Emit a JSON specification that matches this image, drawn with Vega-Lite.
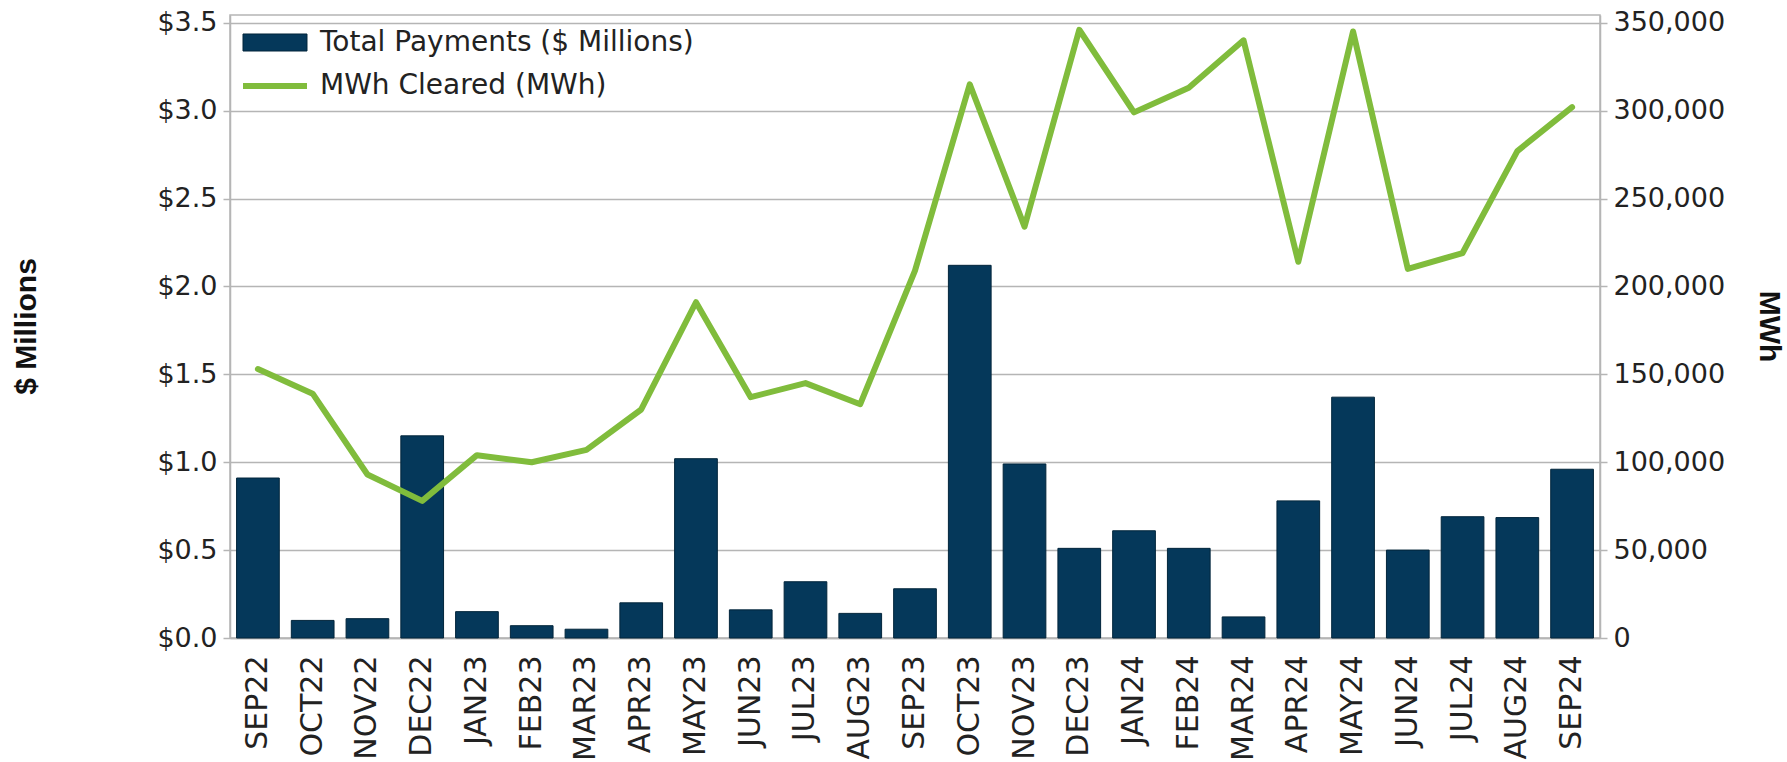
{
  "$schema": "https://vega.github.io/schema/vega-lite/v6.json",
  "width": 1370,
  "height": 623,
  "autosize": {"type": "none"},
  "padding": {"left": 230, "top": 15, "right": 187, "bottom": 124},
  "background": "white",
  "config": {
    "view": {"stroke": "#b5b5b5", "strokeWidth": 1.5},
    "font": "DejaVu Sans"
  },
  "data": {
    "values": [
      {"month": "SEP22", "payments": 0.91, "mwh": 153000},
      {"month": "OCT22", "payments": 0.10, "mwh": 139000},
      {"month": "NOV22", "payments": 0.11, "mwh": 93000},
      {"month": "DEC22", "payments": 1.15, "mwh": 78000},
      {"month": "JAN23", "payments": 0.15, "mwh": 104000},
      {"month": "FEB23", "payments": 0.07, "mwh": 100000},
      {"month": "MAR23", "payments": 0.05, "mwh": 107000},
      {"month": "APR23", "payments": 0.20, "mwh": 130000},
      {"month": "MAY23", "payments": 1.02, "mwh": 191000},
      {"month": "JUN23", "payments": 0.16, "mwh": 137000},
      {"month": "JUL23", "payments": 0.32, "mwh": 145000},
      {"month": "AUG23", "payments": 0.14, "mwh": 133000},
      {"month": "SEP23", "payments": 0.28, "mwh": 209000},
      {"month": "OCT23", "payments": 2.12, "mwh": 315000},
      {"month": "NOV23", "payments": 0.99, "mwh": 234000},
      {"month": "DEC23", "payments": 0.51, "mwh": 346000},
      {"month": "JAN24", "payments": 0.61, "mwh": 299000},
      {"month": "FEB24", "payments": 0.51, "mwh": 313000},
      {"month": "MAR24", "payments": 0.12, "mwh": 340000},
      {"month": "APR24", "payments": 0.78, "mwh": 214000},
      {"month": "MAY24", "payments": 1.37, "mwh": 345000},
      {"month": "JUN24", "payments": 0.50, "mwh": 210000},
      {"month": "JUL24", "payments": 0.69, "mwh": 219000},
      {"month": "AUG24", "payments": 0.685, "mwh": 277000},
      {"month": "SEP24", "payments": 0.96, "mwh": 302000}
    ]
  },
  "encoding": {
    "x": {
      "field": "month",
      "type": "ordinal",
      "sort": null,
      "scale": {"paddingInner": 0.22, "paddingOuter": 0.12},
      "axis": {
        "title": null,
        "labelAngle": 270,
        "labelFont": "DejaVu Sans",
        "labelFontSize": 30,
        "labelColor": "#222222",
        "ticks": false,
        "domainColor": "#b5b5b5",
        "domainWidth": 1.5,
        "labelPadding": 17,
        "grid": false
      }
    }
  },
  "layer": [
    {
      "mark": {"type": "bar", "stroke": "#02253b", "strokeWidth": 1},
      "encoding": {
        "y": {
          "field": "payments",
          "type": "quantitative",
          "scale": {"domain": [0, 3.544], "nice": false, "zero": true},
          "axis": {
            "title": "$ Millions",
            "values": [0, 0.5, 1, 1.5, 2, 2.5, 3, 3.5],
            "format": "$.1f",
            "labelFont": "DejaVu Sans",
            "labelFontSize": 27,
            "labelColor": "#222222",
            "labelPadding": 6,
            "tickSize": 7,
            "tickColor": "#b5b5b5",
            "tickWidth": 1.5,
            "domainColor": "#b5b5b5",
            "domainWidth": 1.5,
            "grid": true,
            "gridColor": "#b5b5b5",
            "gridWidth": 1.5,
            "titleFont": "Liberation Sans",
            "titleFontWeight": "bold",
            "titleFontSize": 30,
            "titleColor": "#111111",
            "titleAngle": 270,
            "titleAlign": "center",
            "titleBaseline": "middle",
            "titleX": -204,
            "titleY": 311
          }
        },
        "fill": {
          "datum": "Total Payments ($ Millions)",
          "type": "nominal",
          "scale": {"domain": ["Total Payments ($ Millions)"], "range": ["#05385a"]},
          "legend": {
            "orient": "none",
            "legendX": 29.5,
            "legendY": 12,
            "title": null,
            "padding": 0,
            "labelFont": "DejaVu Sans",
            "labelFontSize": 28,
            "labelColor": "#222222",
            "labelLimit": 0,
            "symbolSize": 900,
            "symbolType": "M-2.133,-0.567H2.133V0.567H-2.133Z",
            "symbolStrokeColor": "#02253b",
            "symbolStrokeWidth": 1,
            "symbolOpacity": 1,
            "labelOffset": 29.5
          }
        }
      }
    },
    {
      "mark": {"type": "line", "strokeWidth": 6, "strokeJoin": "round", "strokeCap": "round"},
      "encoding": {
        "y": {
          "field": "mwh",
          "type": "quantitative",
          "scale": {"domain": [0, 354400], "nice": false, "zero": true},
          "axis": {
            "orient": "right",
            "title": "MWh",
            "values": [0, 50000, 100000, 150000, 200000, 250000, 300000, 350000],
            "format": ",d",
            "labelFont": "DejaVu Sans",
            "labelFontSize": 27,
            "labelColor": "#222222",
            "labelPadding": 6,
            "tickSize": 7,
            "tickColor": "#b5b5b5",
            "tickWidth": 1.5,
            "domainColor": "#b5b5b5",
            "domainWidth": 1.5,
            "grid": false,
            "titleFont": "Liberation Sans",
            "titleFontWeight": "bold",
            "titleFontSize": 30,
            "titleColor": "#111111",
            "titleAngle": 90,
            "titleAlign": "center",
            "titleBaseline": "middle",
            "titleX": 168,
            "titleY": 311
          }
        },
        "stroke": {
          "datum": "MWh Cleared (MWh)",
          "type": "nominal",
          "scale": {"domain": ["MWh Cleared (MWh)"], "range": ["#80bc3c"]},
          "legend": {
            "orient": "none",
            "legendX": 27,
            "legendY": 53,
            "title": null,
            "padding": 0,
            "labelFont": "DejaVu Sans",
            "labelFontSize": 28,
            "labelColor": "#222222",
            "labelLimit": 0,
            "symbolSize": 900,
            "symbolType": "M-2.133,0H2.133",
            "symbolStrokeWidth": 6,
            "symbolOpacity": 1,
            "labelOffset": 27
          }
        }
      }
    }
  ],
  "resolve": {"scale": {"y": "independent"}}
}
